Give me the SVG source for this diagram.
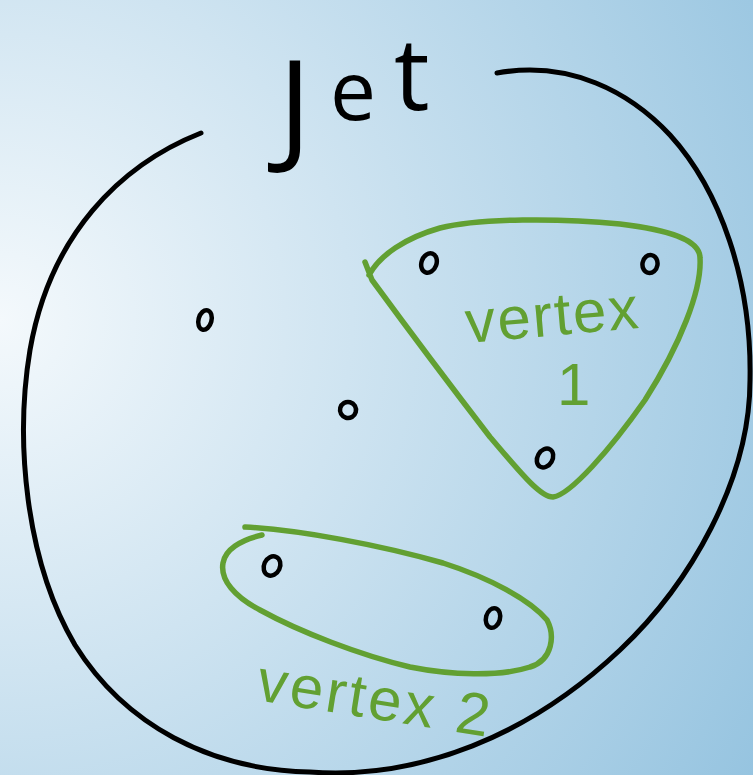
<svg xmlns="http://www.w3.org/2000/svg" width="753" height="775" viewBox="0 0 753 775">
<defs>
<radialGradient id="bg" gradientUnits="userSpaceOnUse" cx="0" cy="320" r="880">
<stop offset="0" stop-color="#f4f9fc"/>
<stop offset="0.4" stop-color="#cfe4f1"/>
<stop offset="1" stop-color="#96c4e0"/>
</radialGradient>
<style>
.blk{fill:none;stroke:#000;stroke-width:5;stroke-linecap:round;stroke-linejoin:round}
.grn{fill:none;stroke:#62a032;stroke-width:5.5;stroke-linecap:round;stroke-linejoin:round}
.node{fill:none;stroke:#000;stroke-width:4.5}
.gtxt{fill:#62a032;font-family:"Liberation Sans",Arial,sans-serif;font-size:60px}
.jtxt{fill:#000;font-family:"Open Sans","Liberation Sans",sans-serif;font-weight:400}
</style>
</defs>
<rect width="753" height="775" fill="url(#bg)"/>
<g id="jet">
<path class="blk" d="M201,133 C120,165 50,235 30,350 C15,440 25,560 75,645 C125,725 210,770 310,772 C420,780 530,735 620,650 C690,584 750,480 750,380 C752,280 720,190 670,135 C630,92 570,60 497,73"/>
<text class="jtxt"><tspan x="278" y="150" font-size="125">J</tspan><tspan x="330" y="120" font-size="82">e</tspan><tspan x="394" y="110" font-size="100">t</tspan></text>
</g>
<g id="vertex1">
<path class="grn" d="M365,262 L372,280 C405,325 450,385 490,437 C520,472 540,497 553,497 C570,495 610,450 645,400 C680,345 702,290 700,258 C700,240 670,230 620,224 C560,218 480,218 440,228 C405,238 380,255 369,275"/>
<text class="gtxt" x="467" y="343" letter-spacing="2" transform="rotate(-5 467 343)">vertex</text>
<text class="gtxt" x="557" y="405" font-size="70">1</text>
</g>
<g id="vertex2">
<path class="grn" d="M245,527 C300,530 380,545 443,563 C490,578 530,600 547,620 C555,635 553,660 530,667 C500,677 450,675 410,667 C360,655 300,632 260,610 C235,597 220,580 223,563 C225,550 240,540 262,535"/>
<text class="gtxt" x="255" y="700" letter-spacing="3" transform="rotate(9 255 700)">vertex 2</text>
</g>
<g id="particles">
<ellipse id="p1" class="node" cx="205" cy="320" rx="6.5" ry="10" transform="rotate(15 205 320)"/>
<ellipse id="p2" class="node" cx="348" cy="410" rx="8" ry="8" transform="rotate(15 348 410)"/>
<ellipse id="p3" class="node" cx="429" cy="263" rx="7.5" ry="10" transform="rotate(20 429 263)"/>
<ellipse id="p4" class="node" cx="650" cy="264" rx="7.5" ry="9" transform="rotate(10 650 264)"/>
<ellipse id="p5" class="node" cx="545" cy="458" rx="7.5" ry="10" transform="rotate(30 545 458)"/>
<ellipse id="p6" class="node" cx="272" cy="566" rx="8" ry="10" transform="rotate(25 272 566)"/>
<ellipse id="p7" class="node" cx="493" cy="618" rx="7" ry="10" transform="rotate(15 493 618)"/>
</g>
</svg>
